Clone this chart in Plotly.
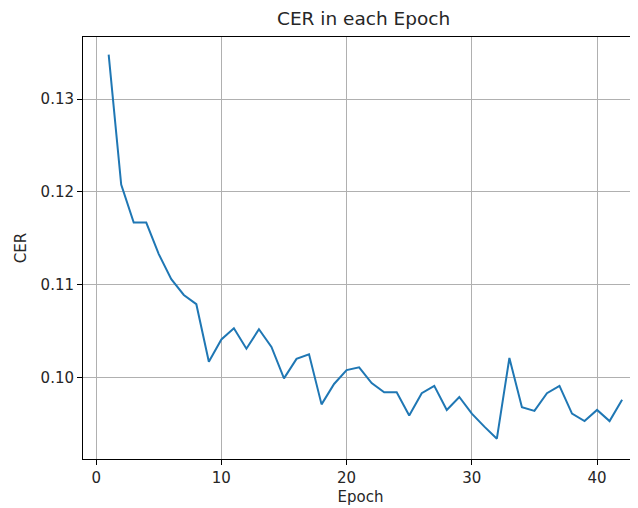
import plotly.graph_objects as go

epochs = list(range(1, 43))
cer = [0.1348, 0.1208, 0.1167, 0.1167, 0.1133, 0.1106, 0.1089, 0.1079, 0.1017, 0.1041,
       0.1053, 0.1031, 0.1052, 0.1033, 0.0999, 0.1020, 0.1025, 0.0971, 0.0993, 0.1008,
       0.1011, 0.0994, 0.0984, 0.0984, 0.0959, 0.0983, 0.0991, 0.0965, 0.0979, 0.0961,
       0.0947, 0.0934, 0.1021, 0.0968, 0.0964, 0.0983, 0.0991, 0.0961, 0.0953, 0.0965,
       0.0953, 0.0976]
x_ticks = [0, 10, 20, 30, 40]
y_ticks = [0.10, 0.11, 0.12, 0.13]

font = "DejaVu Sans, sans-serif"
txt = "#262626"
fig = go.Figure()
fig.add_trace(go.Scatter(x=epochs, y=cer, mode="lines",
                         line=dict(color="#1f77b4", width=2)))

# the page body adds an 8px offset, so the figure is 630x500 placed at (8, 8)
fig.update_layout(
    width=630, height=500,
    margin=dict(l=75, r=0, t=29, b=49, autoexpand=False),
    plot_bgcolor="white", paper_bgcolor="white",
    showlegend=False,
    font=dict(family=font, size=15, color=txt),
    annotations=[dict(text="CER in each Epoch", xref="paper", yref="paper",
                      x=0.506, y=1, yanchor="bottom", xanchor="center", yshift=6,
                      showarrow=False, font=dict(family=font, size=18.5, color=txt))],
)
fig.update_xaxes(
    range=[-1.05, 43.27], tickvals=x_ticks, ticktext=[str(v) for v in x_ticks],
    showgrid=True, gridcolor="#b0b0b0", gridwidth=1,
    showline=True, linecolor="black", linewidth=1, mirror=True,
    ticks="outside", ticklen=5, tickcolor="black", zeroline=False,
    tickfont=dict(size=15, color=txt), automargin=False,
    title=dict(text="Epoch", standoff=5, font=dict(size=15, color=txt)),
)
fig.update_yaxes(
    range=[0.09121, 0.13671], tickvals=y_ticks, ticktext=[f"{v:.2f}" for v in y_ticks],
    showgrid=True, gridcolor="#b0b0b0", gridwidth=1,
    showline=True, linecolor="black", linewidth=1, mirror=False,
    ticks="outside", ticklen=5, tickcolor="black", zeroline=False,
    tickfont=dict(size=15, color=txt), automargin=False,
    title=dict(text="CER", standoff=10, font=dict(size=15, color=txt)),
)
fig.write_html("out.html")
